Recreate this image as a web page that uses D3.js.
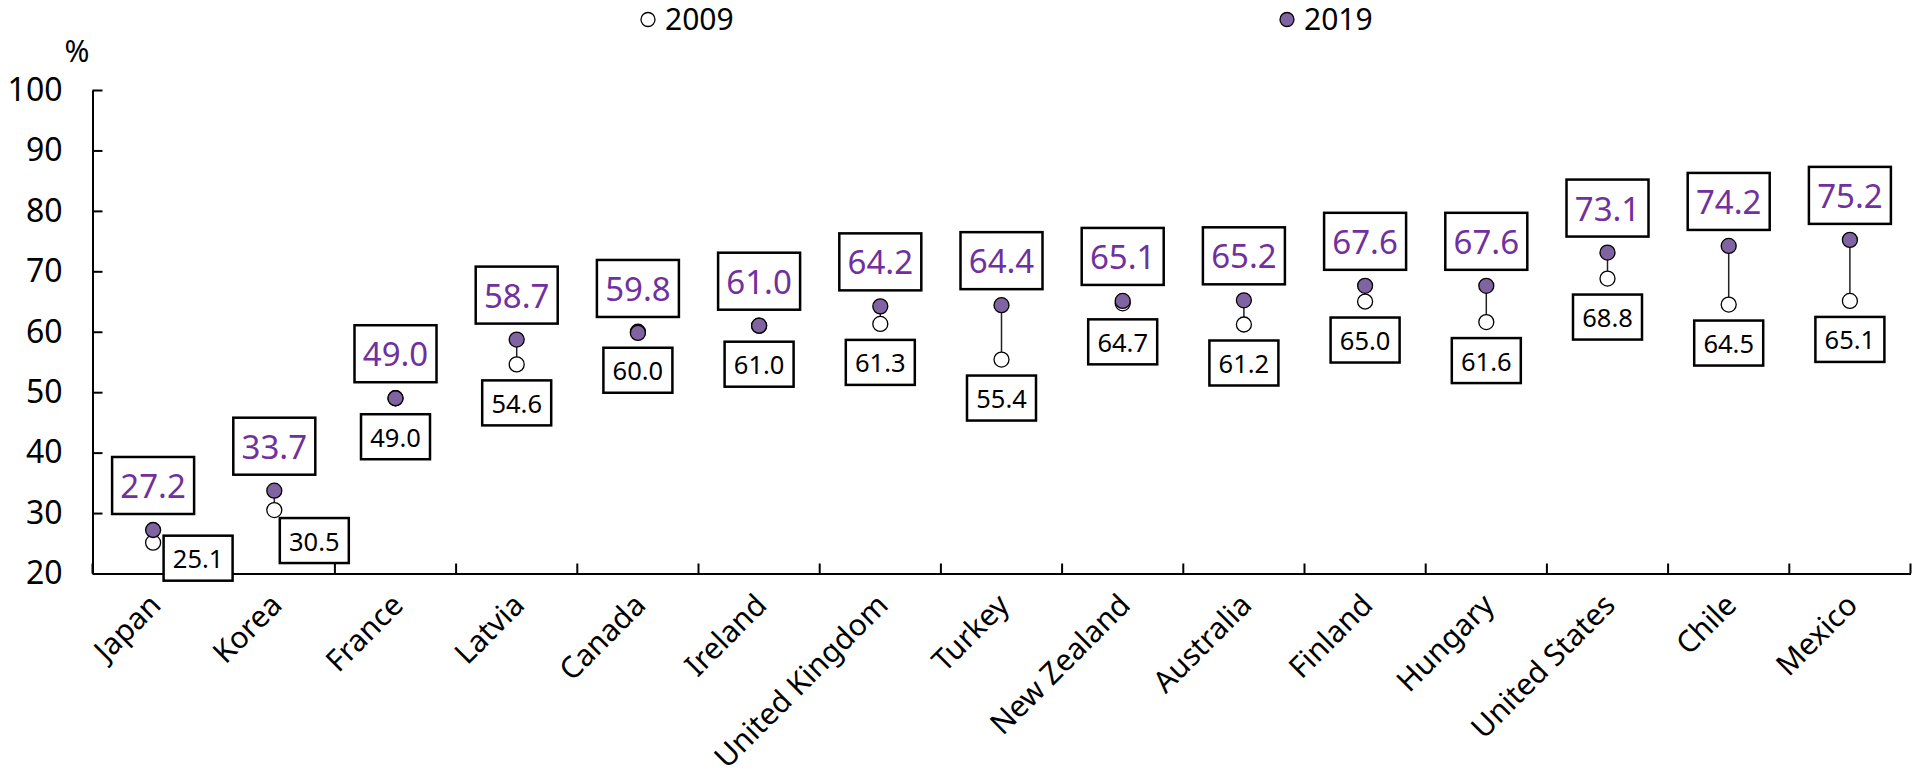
<!DOCTYPE html>
<html>
<head>
<meta charset="utf-8">
<script src="https://cdn.jsdelivr.net/npm/d3@7"></script>
<style>
  html, body { margin: 0; padding: 0; background: #fff; }
  svg { display: block; font-family: "Noto Sans", "DejaVu Sans", sans-serif; }
</style>
</head>
<body>
<svg id="chart" width="1925" height="770"></svg>
<script>
// Country order along the x axis
const countries = ["Japan", "Korea", "France", "Latvia", "Canada", "Ireland",
  "United Kingdom", "Turkey", "New Zealand", "Australia", "Finland",
  "Hungary", "United States", "Chile", "Mexico"];
// Share (%) in each year
const values2009 = [25.1, 30.5, 49.0, 54.6, 60.0, 61.0, 61.3, 55.4, 64.7, 61.2, 65.0, 61.6, 68.8, 64.5, 65.1];
const values2019 = [27.2, 33.7, 49.0, 58.7, 59.8, 61.0, 64.2, 64.4, 65.1, 65.2, 67.6, 67.6, 73.1, 74.2, 75.2];
const yTicks = [20, 30, 40, 50, 60, 70, 80, 90, 100];
const seriesNames = ["2009", "2019"];

const W = 1925, H = 770;
const margin = { top: 90, right: 14.5, bottom: 196.5, left: 92.5 };
const purpleFill = "#8064a2";
const purpleText = "#7030a0";
const FONT = "'Noto Sans', 'DejaVu Sans', sans-serif";

const svg = d3.select("#chart");

const x = d3.scaleBand()
  .domain(countries)
  .range([margin.left, W - margin.right])
  .paddingInner(0).paddingOuter(0);

const y = d3.scaleLinear()
  .domain([20, 100])
  .range([H - margin.bottom, margin.top]);

const cx = c => x(c) + x.bandwidth() / 2;

// Y axis with inward ticks
const yAxis = svg.append("g")
  .attr("transform", `translate(${margin.left},0)`)
  .call(d3.axisLeft(y).tickValues(yTicks).tickSizeInner(-10).tickSizeOuter(0).tickPadding(30));
yAxis.select(".domain").attr("stroke", "#000").attr("stroke-width", 2);
yAxis.selectAll(".tick line").attr("stroke", "#000").attr("stroke-width", 2);
yAxis.selectAll(".tick text")
  .attr("font-size", 32).attr("fill", "#000")
  .attr("font-family", FONT);

// X axis: baseline plus rotated category labels
const y0 = y(20);
const xAxis = svg.append("g")
  .attr("transform", `translate(0,${y0})`)
  .call(d3.axisBottom(x).tickSize(0).tickSizeOuter(0));
xAxis.select(".domain").attr("stroke", "#000").attr("stroke-width", 2);
xAxis.selectAll(".tick text")
  .attr("font-size", 30).attr("fill", "#000")
  .attr("font-family", FONT)
  .attr("text-anchor", "end")
  .attr("dy", "0.35em")
  .attr("transform", "translate(2,26) rotate(-45)")
  .attr("y", 0).attr("x", 0);

// Category boundary ticks pointing up
const boundaries = countries.map(c => x(c)).concat([x(countries[countries.length - 1]) + x.bandwidth()]);
svg.append("g").selectAll("line")
  .data(boundaries)
  .join("line")
  .attr("x1", d => d).attr("x2", d => d)
  .attr("y1", y0).attr("y2", y0 - 10)
  .attr("stroke", "#000").attr("stroke-width", 2);

// "%" unit label
svg.append("text")
  .attr("x", 77).attr("y", 50)
  .attr("text-anchor", "middle").attr("dominant-baseline", "central")
  .attr("font-size", 30).attr("fill", "#000")
  .text("%");

// Legend
const legendItems = [
  { name: seriesNames[0], x: 648, fill: "#fff" },
  { name: seriesNames[1], x: 1287, fill: purpleFill }
];
const lg = svg.append("g").selectAll("g").data(legendItems).join("g");
lg.append("circle")
  .attr("cx", d => d.x).attr("cy", 19.5).attr("r", 7)
  .attr("fill", d => d.fill).attr("stroke", "#000").attr("stroke-width", 1.3);
lg.append("text")
  .attr("x", d => d.x + 17).attr("y", 29.5)
  .attr("font-size", 30).attr("fill", "#000")
  .text(d => d.name);

const rows = countries.map((c, i) => ({ c, v09: values2009[i], v19: values2019[i] }));

// Connectors between the two years
svg.append("g").selectAll("line")
  .data(rows)
  .join("line")
  .attr("x1", d => cx(d.c)).attr("x2", d => cx(d.c))
  .attr("y1", d => y(d.v09)).attr("y2", d => y(d.v19))
  .attr("stroke", "#222").attr("stroke-width", 1.5);

// 2009 markers
svg.append("g").selectAll("circle")
  .data(rows)
  .join("circle")
  .attr("cx", d => cx(d.c)).attr("cy", d => y(d.v09)).attr("r", 7.5)
  .attr("fill", "#fff").attr("stroke", "#000").attr("stroke-width", 1.3);

// 2019 markers
svg.append("g").selectAll("circle")
  .data(rows)
  .join("circle")
  .attr("cx", d => cx(d.c)).attr("cy", d => y(d.v19)).attr("r", 7.5)
  .attr("fill", purpleFill).attr("stroke", "#000").attr("stroke-width", 1.3);

// Value boxes
const box19 = { w: 82, h: 57, gap: 16, size: 33 };
const box09 = { w: 69, h: 45, gap: 16, size: 25.5 };
// 2009 labels shifted right where they would collide with the x axis
const shift09 = { "Japan": [45, -23], "Korea": [40, -8] };

const g19 = svg.append("g").selectAll("g")
  .data(rows)
  .join("g")
  .attr("transform", d => `translate(${cx(d.c)},${y(d.v19) - box19.gap - box19.h / 2})`);
g19.append("rect")
  .attr("x", -box19.w / 2).attr("y", -box19.h / 2)
  .attr("width", box19.w).attr("height", box19.h)
  .attr("fill", "#fff").attr("stroke", "#000").attr("stroke-width", 2.5);
g19.append("text")
  .attr("text-anchor", "middle").attr("dominant-baseline", "central")
  .attr("font-size", box19.size).attr("fill", purpleText)
  .text(d => d.v19.toFixed(1));

const g09 = svg.append("g").selectAll("g")
  .data(rows)
  .join("g")
  .attr("transform", d => {
    const s = shift09[d.c] || [0, 0];
    return `translate(${cx(d.c) + s[0]},${y(d.v09) + box09.gap + box09.h / 2 + s[1]})`;
  });
g09.append("rect")
  .attr("x", -box09.w / 2).attr("y", -box09.h / 2)
  .attr("width", box09.w).attr("height", box09.h)
  .attr("fill", "#fff").attr("stroke", "#000").attr("stroke-width", 2.5);
g09.append("text")
  .attr("text-anchor", "middle").attr("dominant-baseline", "central")
  .attr("font-size", box09.size).attr("fill", "#000")
  .text(d => d.v09.toFixed(1));
</script>
</body>
</html>
